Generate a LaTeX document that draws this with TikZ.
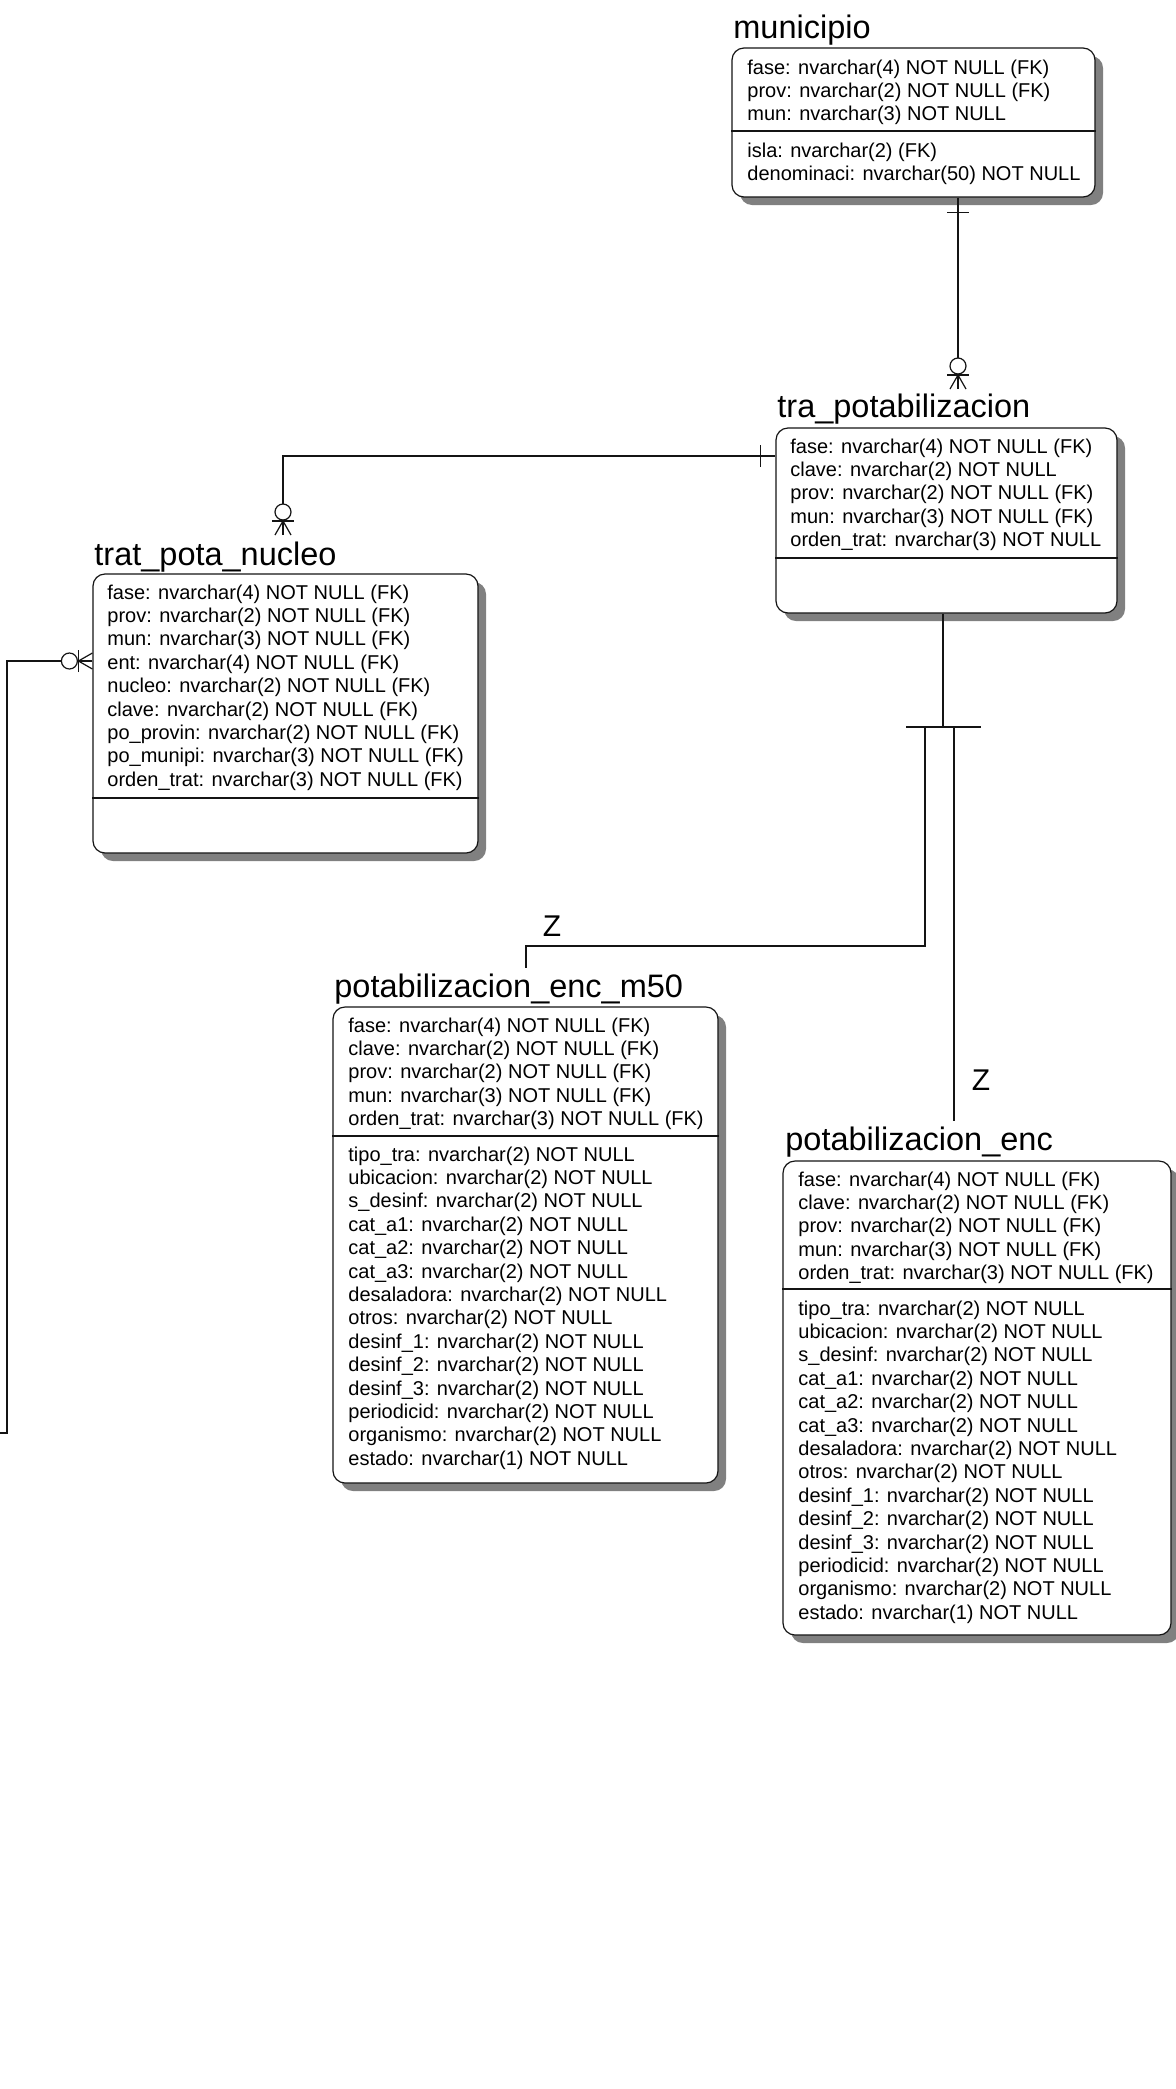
\documentclass[tikz,border=0pt]{standalone}
\usepackage{fontspec}
\setmainfont{Liberation Sans}
\usepackage{tikz}
\usetikzlibrary{calc, fit, shadows}
\definecolor{erline}{RGB}{20,20,20}
\definecolor{ershadow}{RGB}{128,128,128}

% attribute lists shared by both potabilizacion tables
\newcommand\potakeys{fase: nvarchar(4) NOT NULL (FK), clave: nvarchar(2) NOT NULL (FK), prov: nvarchar(2) NOT NULL (FK), mun: nvarchar(3) NOT NULL (FK), orden\_trat: nvarchar(3) NOT NULL (FK)}
\newcommand\potaattrs{tipo\_tra: nvarchar(2) NOT NULL, ubicacion: nvarchar(2) NOT NULL, s\_desinf: nvarchar(2) NOT NULL, cat\_a1: nvarchar(2) NOT NULL, cat\_a2: nvarchar(2) NOT NULL, cat\_a3: nvarchar(2) NOT NULL, desaladora: nvarchar(2) NOT NULL, otros: nvarchar(2) NOT NULL, desinf\_1: nvarchar(2) NOT NULL, desinf\_2: nvarchar(2) NOT NULL, desinf\_3: nvarchar(2) NOT NULL, periodicid: nvarchar(2) NOT NULL, organismo: nvarchar(2) NOT NULL, estado: nvarchar(1) NOT NULL}

\tikzset{
  zeromany/.pic={
    \draw[erline, line width=0.6pt, fill=white] (0,-23) circle[radius=8];
    \draw[erline, line width=0.6pt] (-11,-14) -- (11,-14);
    \draw[erline, line width=0.6pt] (0,-14) -- (-8,0) (0,-14) -- (8,0);
  },
  onebar/.pic={
    \draw[erline, line width=0.6pt] (-11,15) -- (11,15);
  }
}

\begin{document}
\begin{tikzpicture}[x=0.5pt, y=-0.5pt,
    entity/.style={draw=erline, fill=white, line width=0.6pt, rounded corners=6pt, inner sep=0pt,
      drop shadow={shadow xshift=4pt, shadow yshift=-4pt, fill=ershadow, opacity=1}},
    etitle/.style={anchor=base west, inner sep=0pt, font=\fontsize{16.25}{18}\selectfont},
    attr/.style={anchor=base west, inner sep=0pt, font=\fontsize{10}{12}\selectfont},
    rel/.style={erline, line width=0.6pt},
    zlabel/.style={inner sep=0pt, font=\fontsize{15}{17}\selectfont}]
  % Page
  \fill[white] (0,0) rectangle (1176,2089);
  \useasboundingbox (0,0) rectangle (1176,2089);

  % municipio
  \node[entity, fit={(732,48) (1095,197)}] (municipio) {};
  \node[etitle] (municipio-t) at (733,38) {municipio};
  \draw[rel] (municipio.west |- 0,131) -- (municipio.east |- 0,131);
  \foreach \a [count=\i from 0] in {fase: nvarchar(4) NOT NULL (FK), prov: nvarchar(2) NOT NULL (FK), mun: nvarchar(3) NOT NULL}
    \node[attr] (municipio-k\i) at (747,74+23.4*\i) {\a};
  \foreach \a [count=\i from 0] in {isla: nvarchar(2) (FK), denominaci: nvarchar(50) NOT NULL}
    \node[attr] (municipio-a\i) at (747,157+23.4*\i) {\a};

  % tra_potabilizacion
  \node[entity, fit={(776,428) (1117,613)}] (trapota) {};
  \node[etitle] (trapota-t) at (777,417) {tra\_potabilizacion};
  \draw[rel] (trapota.west |- 0,558) -- (trapota.east |- 0,558);
  \foreach \a [count=\i from 0] in {fase: nvarchar(4) NOT NULL (FK), clave: nvarchar(2) NOT NULL, prov: nvarchar(2) NOT NULL (FK), mun: nvarchar(3) NOT NULL (FK), orden\_trat: nvarchar(3) NOT NULL}
    \node[attr] (trapota-k\i) at (790,453+23.4*\i) {\a};

  % trat_pota_nucleo
  \node[entity, fit={(93,574) (478,853)}] (tratnucleo) {};
  \node[etitle] (tratnucleo-t) at (94,565) {trat\_pota\_nucleo};
  \draw[rel] (tratnucleo.west |- 0,798) -- (tratnucleo.east |- 0,798);
  \foreach \a [count=\i from 0] in {fase: nvarchar(4) NOT NULL (FK), prov: nvarchar(2) NOT NULL (FK), mun: nvarchar(3) NOT NULL (FK), ent: nvarchar(4) NOT NULL (FK), nucleo: nvarchar(2) NOT NULL (FK), clave: nvarchar(2) NOT NULL (FK), po\_provin: nvarchar(2) NOT NULL (FK), po\_munipi: nvarchar(3) NOT NULL (FK), orden\_trat: nvarchar(3) NOT NULL (FK)}
    \node[attr] (tratnucleo-k\i) at (107,599+23.4*\i) {\a};

  % potabilizacion_enc_m50
  \node[entity, fit={(333,1007) (718,1483)}] (encm50) {};
  \node[etitle] (encm50-t) at (334,997) {potabilizacion\_enc\_m50};
  \draw[rel] (encm50.west |- 0,1136) -- (encm50.east |- 0,1136);
  \foreach \a [count=\i from 0] in \potakeys
    \node[attr] (encm50-k\i) at (348,1032+23.4*\i) {\a};
  \foreach \a [count=\i from 0] in \potaattrs
    \node[attr] (encm50-a\i) at (348,1161+23.4*\i) {\a};

  % potabilizacion_enc
  \node[entity, fit={(783,1161) (1171,1635)}] (enc) {};
  \node[etitle] (enc-t) at (785,1150) {potabilizacion\_enc};
  \draw[rel] (enc.west |- 0,1289) -- (enc.east |- 0,1289);
  \foreach \a [count=\i from 0] in \potakeys
    \node[attr] (enc-k\i) at (798,1186+23.4*\i) {\a};
  \foreach \a [count=\i from 0] in \potaattrs
    \node[attr] (enc-a\i) at (798,1315+23.4*\i) {\a};

  % municipio -> tra_potabilizacion
  \coordinate (trapota-in) at (958,389);
  \draw[rel] (municipio.south -| trapota-in) -- (trapota-in);
  \pic at (municipio.south -| trapota-in) {onebar};
  \pic at (trapota-in) {zeromany};

  % tra_potabilizacion -> trat_pota_nucleo
  \coordinate (tratnucleo-in) at (283,535);
  \draw[rel] (trapota.west |- 0,456) -- (tratnucleo-in |- 0,456) -- (tratnucleo-in);
  \pic[rotate=-90] at (trapota.west |- 0,456) {onebar};
  \pic at (tratnucleo-in) {zeromany};

  % loose relation into trat_pota_nucleo
  \coordinate (loose) at (0,1433);
  \draw[rel] (tratnucleo.west |- 0,661) -- (7,661) -- (7,1433) -- (loose);
  \pic[rotate=90] at (tratnucleo.west |- 0,661) {zeromany};

  % subtype category
  \coordinate (cat) at (943,727);
  \coordinate (cat-l) at (906,727);
  \coordinate (cat-r) at (981,727);
  \coordinate (encm50-in) at (526,968);
  \coordinate (enc-in) at (954,1121);
  \draw[rel] (trapota.south -| cat) -- (cat);
  \draw[rel] (cat-l) -- (cat-r);
  \draw[rel] (925,727) -- (925,946) -- (encm50-in |- 0,946) -- (encm50-in);
  \draw[rel] (enc-in |- cat) -- (enc-in);
  \node[zlabel] (encm50-z) at (552,926) {Z};
  \node[zlabel] (enc-z) at (981,1080) {Z};
\end{tikzpicture}
\end{document}
